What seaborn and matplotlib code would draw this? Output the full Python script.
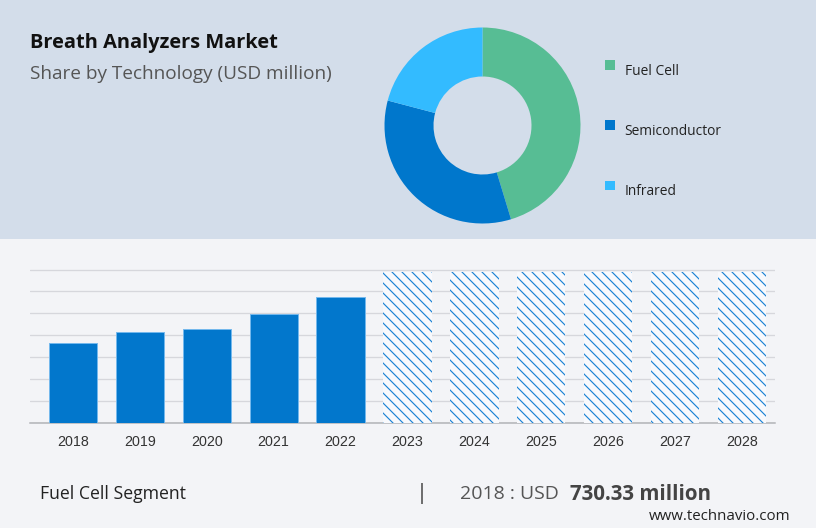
import matplotlib
matplotlib.use("Agg")
import matplotlib.pyplot as plt
from matplotlib.patches import Rectangle
import seaborn as sns
import pandas as pd

years = ["2018","2019","2020","2021","2022","2023","2024","2025","2026","2027","2028"]
values = [730.33, 830, 858, 990, 1146, 1370, 1370, 1370, 1370, 1370, 1370]
n_history = 5
gridlines = [0, 200, 400, 600, 800, 1000, 1200, 1390]
techs = ["Fuel Cell", "Semiconductor", "Infrared"]
shares = [45.3, 33.8, 20.9]
tech_colors = ["#57bd94", "#0077cc", "#33bbff"]

W, H = 816, 528
DPI = 120
BAR = "#0277cc"
sns.set_theme(style="white")
plt.rcParams["font.family"] = ["Open Sans", "DejaVu Sans"]
plt.rcParams["hatch.linewidth"] = 0.7
plt.rcParams["hatch.color"] = "#1a82d4"

def px(x0, y0, x1, y1):
    return [x0 / W, 1 - y1 / H, (x1 - x0) / W, (y1 - y0) / H]

def label(x, y, s, size, **kw):
    kw.setdefault("va", "center")
    kw.setdefault("color", "#222222")
    fig.text(x / W, 1 - y / H, s, fontsize=size * 72 / DPI, **kw)

fig = plt.figure(figsize=(W / DPI, H / DPI), dpi=DPI, facecolor="#f3f4f7")
fig.add_artist(Rectangle((0, 1 - 239 / H), 1, 239 / H, transform=fig.transFigure,
                         facecolor="#d3ddea", edgecolor="none", zorder=-5))

# bars
ax = fig.add_axes(px(30, 255, 775, 423))
df = pd.DataFrame({"year": years, "value": values})
sns.barplot(data=df, x="year", y="value", ax=ax, color=BAR, saturation=1, width=0.72, zorder=3)
for i, p in enumerate(ax.patches):
    if i >= n_history:
        p.set_facecolor("#f8f9fc")
        p.set_edgecolor("#1a82d4")
        p.set_linewidth(0)
        p.set_hatch("\\" * 4)
    else:
        p.set_facecolor(BAR)
        p.set_edgecolor("#74b8ec")
        p.set_linewidth(0.6)
ax.set_xlim(-0.64, 10.49)
ax.set_ylim(0, 168 * 200 / 22)
ax.set_yticks(gridlines)
ax.set_yticklabels([])
ax.set_xlabel("")
ax.set_ylabel("")
ax.patch.set_alpha(0)
ax.yaxis.grid(True, color="#d6d7dc", linewidth=0.8, zorder=0)
ax.set_axisbelow(True)
for s in ("top", "left", "right"):
    ax.spines[s].set_visible(False)
ax.spines["bottom"].set_color("#b0b2b6")
ax.spines["bottom"].set_linewidth(0.9)
ax.tick_params(axis="both", length=0, pad=7)
for t in ax.get_xticklabels():
    t.set_fontfamily("Liberation Sans")
    t.set_fontsize(14.2 * 72 / DPI)
    t.set_color("#333333")

# donut
R = 98
axd = fig.add_axes(px(482.5 - R, 125.5 - R, 482.5 + R, 125.5 + R))
wedges, _ = axd.pie(shares, colors=tech_colors, startangle=90, counterclock=False, radius=1,
                    wedgeprops=dict(width=0.5, linewidth=0))
axd.set_xlim(-1, 1)
axd.set_ylim(-1, 1)
leg = fig.legend(wedges, techs, loc="upper left", bbox_to_anchor=(605 / W, 1 - 64 / H),
                 frameon=False, handlelength=0.72, handleheight=0.72, handletextpad=0.7,
                 labelspacing=3.27, fontsize=13.8 * 72 / DPI, borderpad=0, borderaxespad=0)
for t in leg.get_texts():
    t.set_color("#222222")
for h in leg.legend_handles:
    h.set_y(h.get_y() + 3)

# texts
label(30, 43, "Breath Analyzers Market", 20, fontweight="bold", color="#111111")
label(30, 74, "Share by Technology (USD million)", 19, color="#555555")
label(40, 494, "Fuel Cell Segment", 17.7, color="#222222")
label(422, 493, "|", 22, ha="center", color="#444444")
label(460, 494, "2018 : USD", 19.5, color="#555555")
label(570, 494, "730.33 million", 20.5, fontweight="bold", color="#444444")
label(790, 517, "www.technavio.com", 15, ha="right", color="#222222")

fig.savefig("out.png", dpi=DPI, facecolor=fig.get_facecolor())
